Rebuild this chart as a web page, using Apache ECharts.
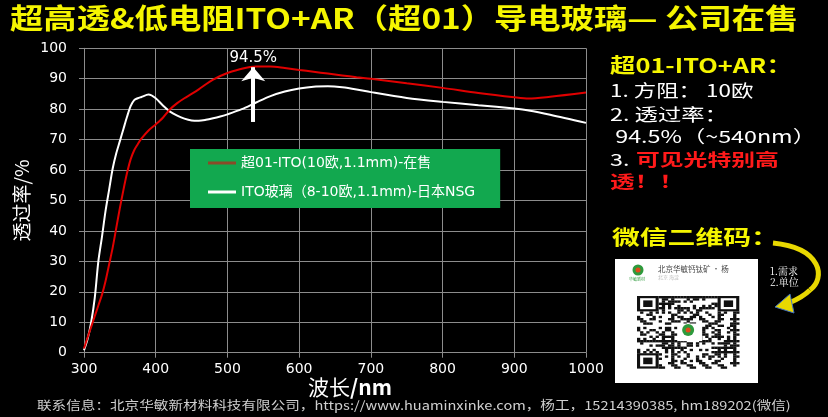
<!DOCTYPE html>
<html><head><meta charset="utf-8">
<script src="https://cdn.jsdelivr.net/npm/echarts@6/dist/echarts.min.js"></script>
<style>html,body{margin:0;padding:0;background:#000}#c{width:828px;height:417px}</style>
</head><body><div id="c"></div>
<script>
const titleText = '超高透&低电阻ITO+AR（超01）导电玻璃— 公司在售';
const seriesNames = ['超01-ITO(10欧,1.1mm)-在售', 'ITO玻璃（8-10欧,1.1mm)-日本NSG'];
const xTicks = [300, 400, 500, 600, 700, 800, 900, 1000];
const yTicks = [0, 10, 20, 30, 40, 50, 60, 70, 80, 90, 100];
const wavelength = [300,305,310,315,320,325,330,335,340,345,350,355,360,365,370,375,380,390,400,410,420,430,440,450,460,470,480,490,500,520,540,560,580,600,620,640,660,680,700,750,800,850,900,920,950,1000];
const redT = [1.4,5,8.5,12,15.5,19,23.5,29,34.5,41,47.5,53.5,59,63.5,66.5,68.5,70.3,73,75,77.2,80,82,83.6,85,86.5,88.2,89.7,90.9,91.9,93.3,94,94,93.5,92.9,92.3,91.7,91.1,90.5,90,88.5,87,85.3,83.9,83.5,84.1,85.5];
const whiteT = [0.8,4.5,10,18,30,38,46.5,53.5,60.5,65.5,69.5,73.5,77.5,81,83,83.6,84,84.8,83.6,81.2,79.2,77.9,76.9,76.3,76.2,76.5,77,77.6,78.3,80,82.2,84.3,85.8,86.8,87.4,87.5,87.2,86.5,85.6,83.7,82.4,81.3,80.2,79.6,78.2,75.5];
const peakNm = 540, peakLabel = '94.5%';
const panelHead = '超01-ITO+AR：';
const panelLines = ['1. 方阻： 10欧', '2. 透过率：', ' 94.5%（~540nm）'];
const panelRed = ['可见光特别高', '透！！'];
const qrHead = '微信二维码：';
const footerText = '联系信息：北京华敏新材料科技有限公司，https://www.huaminxinke.com，杨工，15214390385, hm189202(微信)';

const CJK = '"Noto Sans CJK SC", "Noto Sans", sans-serif';
const NUM = '"DejaVu Sans", sans-serif';
const MIX = '"DejaVu Sans", "Noto Sans CJK SC", sans-serif';

function pair(xs, ys){ return xs.map((x,i)=>[x, ys[i]]); }

// decorative QR pattern
const qr = [];
const qx0 = 637, qy0 = 296, qmx = 3.1, qmy = 2.2, qn = 33;
function inFinder(i,j){
  const f = (a,b)=> i>=a && i<a+7 && j>=b && j<b+7;
  return f(0,0)||f(0,qn-7)||f(qn-7,0);
}
for (let i=0;i<qn;i++) for (let j=0;j<qn;j++){
  if (inFinder(i,j)) continue;
  if (i>=13 && i<20 && j>=13 && j<20) continue;
  const h = (i*31 + j*17 + i*j*7 + (i^j)*3) % 5;
  if (h<2) qr.push({type:'rect', shape:{x:qx0+j*qmx, y:qy0+i*qmy, width:qmx+0.2, height:qmy+0.2}, style:{fill:'#111'}});
}
function finder(x,y){
  return [
    {type:'rect', shape:{x:x, y:y, width:7*qmx, height:7*qmy}, style:{fill:'#111'}},
    {type:'rect', shape:{x:x+qmx, y:y+qmy, width:5*qmx, height:5*qmy}, style:{fill:'#fff'}},
    {type:'rect', shape:{x:x+2*qmx, y:y+2*qmy, width:3*qmx, height:3*qmy}, style:{fill:'#111'}}
  ];
}
function stext(x, y, text, fill, font, sx){
  return {type:'text', x:x, y:y, scaleX:sx||1, style:{x:0, y:0, text:text, fill:fill, font:font, textVerticalAlign:'middle'}};
}

const chart = echarts.init(document.getElementById('c'), null, {renderer:'canvas'});
chart.setOption({
  backgroundColor:'#000',
  animation:false,
  grid:{left:84, right:242, top:48.3, bottom:64.3, containLabel:false, outerBoundsMode:'none'},
  xAxis:{type:'value', min:300, max:1000, interval:100,
    name:'{a|波长}{b|/nm}', nameLocation:'middle', nameGap:24, nameMoveOverlap:false,
    nameTextStyle:{color:'#fff', padding:[0,0,0,30], rich:{a:{color:'#fff', fontSize:21, fontFamily:CJK}, b:{color:'#fff', fontSize:21, fontFamily:CJK, fontWeight:'bold'}}},
    axisLine:{lineStyle:{color:'#8c8c8c'}}, axisTick:{show:true, length:5, lineStyle:{color:'#8c8c8c'}},
    splitLine:{show:true, lineStyle:{color:'#8c8c8c', width:1}},
    axisLabel:{color:'#fff', fontSize:14, fontFamily:NUM, margin:10,
      formatter:v=> xTicks.includes(v)? String(v):''}},
  yAxis:{type:'value', min:0, max:100, interval:10,
    name:'透过率/%', nameLocation:'middle', nameGap:53, nameRotate:90, nameMoveOverlap:false,
    nameTextStyle:{color:'#fff', fontSize:19, fontFamily:CJK},
    axisLine:{show:true, lineStyle:{color:'#8c8c8c'}}, axisTick:{show:true, length:5, lineStyle:{color:'#8c8c8c'}},
    splitLine:{show:true, lineStyle:{color:'#8c8c8c', width:1}},
    axisLabel:{color:'#fff', fontSize:14, fontFamily:NUM, margin:17,
      formatter:v=> yTicks.includes(v)? String(v):''}},
  legend:{orient:'vertical', left:190, top:149, backgroundColor:'#12a84f', borderRadius:0,
    padding:[5,25,7,18], itemGap:11, itemWidth:28, itemHeight:3, icon:'rect',
    textStyle:{color:'#fff', fontSize:14, fontFamily:MIX, lineHeight:18},
    data:[{name:seriesNames[0], itemStyle:{color:'#8a4a28'}}, {name:seriesNames[1], itemStyle:{color:'#ffffff'}}]},
  series:[
    {name:seriesNames[0], type:'line', smooth:0.3, symbol:'none', data:pair(wavelength, redT),
      lineStyle:{color:'#e00000', width:2}, itemStyle:{color:'#e00000'}, z:3,
      markLine:{silent:true, symbol:['none','arrow'], symbolSize:[18,14],
        lineStyle:{color:'#fff', width:4, type:'solid'},
        label:{show:true, position:'end', formatter:peakLabel, color:'#fff', fontSize:15, fontFamily:NUM, distance:2},
        data:[[{coord:[peakNm-4, 75.8]}, {coord:[peakNm-4, 93.8]}]]}},
    {name:seriesNames[1], type:'line', smooth:0.3, symbol:'none', data:pair(wavelength, whiteT),
      lineStyle:{color:'#ffffff', width:2}, itemStyle:{color:'#ffffff'}, z:2}
  ],
  graphic:[
    stext(10, 18, titleText, '#f5f500', 'bold 28px '+CJK, 1.19),
    stext(610, 65, panelHead, '#f5f500', 'bold 20px '+CJK, 1.27),
    stext(610, 91, panelLines[0], '#fff', '17px '+CJK, 1.32),
    stext(610, 115, panelLines[1], '#fff', '17px '+CJK, 1.37),
    stext(610, 137, panelLines[2], '#fff', '17px '+CJK, 1.37),
    stext(610, 160, '3. ', '#fff', '17px '+CJK, 1.37),
    stext(636, 160, panelRed[0], '#ff1a1a', 'bold 17px '+CJK, 1.4),
    stext(610, 182, panelRed[1], '#ff1a1a', 'bold 17px '+CJK, 1.45),
    stext(612, 237, qrHead, '#f5f500', 'bold 20px '+CJK, 1.39),
    {type:'rect', shape:{x:615, y:259, width:143, height:124}, style:{fill:'#fff'}},
    {type:'circle', shape:{cx:638, cy:270, r:5.5}, style:{fill:'#2e9a3c'}},
    {type:'circle', shape:{cx:638, cy:270, r:2.5}, style:{fill:'#e04a1a'}},
    stext(629, 279, '华敏新材', '#2e9a3c', '4px '+CJK),
    stext(658, 269, '北京华敏钙钛矿 · 杨', '#444', '7.5px '+CJK),
    stext(658, 277, '北京 海淀', '#bbb', '5px '+CJK),
    ...qr,
    ...finder(qx0, qy0), ...finder(qx0+(qn-7)*qmx, qy0), ...finder(qx0, qy0+(qn-7)*qmy),
    {type:'rect', shape:{x:qx0+13*qmx, y:qy0+12.5*qmy, width:8*qmx, height:8*qmy}, style:{fill:'#fff'}},
    {type:'circle', shape:{cx:qx0+16.5*qmx, cy:qy0+15.5*qmy, r:6}, style:{fill:'#2e9a3c'}},
    {type:'circle', shape:{cx:qx0+16.5*qmx, cy:qy0+15.5*qmy, r:2.5}, style:{fill:'#e04a1a'}},
    {type:'bezierCurve', shape:{x1:773, y1:243, x2:810, y2:290, cpx1:822, cpy1:248, cpx2:826, cpy2:278}, style:{stroke:'#e8d800', lineWidth:5, fill:null}},
    {type:'bezierCurve', shape:{x1:810, y1:290, x2:789, y2:303, cpx1:803, cpy1:297, cpx2:796, cpy2:300}, style:{stroke:'#e8d800', lineWidth:5, fill:null}},
    {type:'polygon', shape:{points:[[775,307],[790,294],[794,313]]}, style:{fill:'#e8d800', stroke:'#4070c0', lineWidth:1}},
    stext(770, 271, '1.需求', '#fff', '10px "Noto Serif CJK SC", serif'),
    stext(770, 282, '2.单位', '#fff', '10px "Noto Serif CJK SC", serif'),
    stext(37, 405, footerText, '#d0d0d0', '12px '+CJK, 1.217)
  ]
});
</script></body></html>
